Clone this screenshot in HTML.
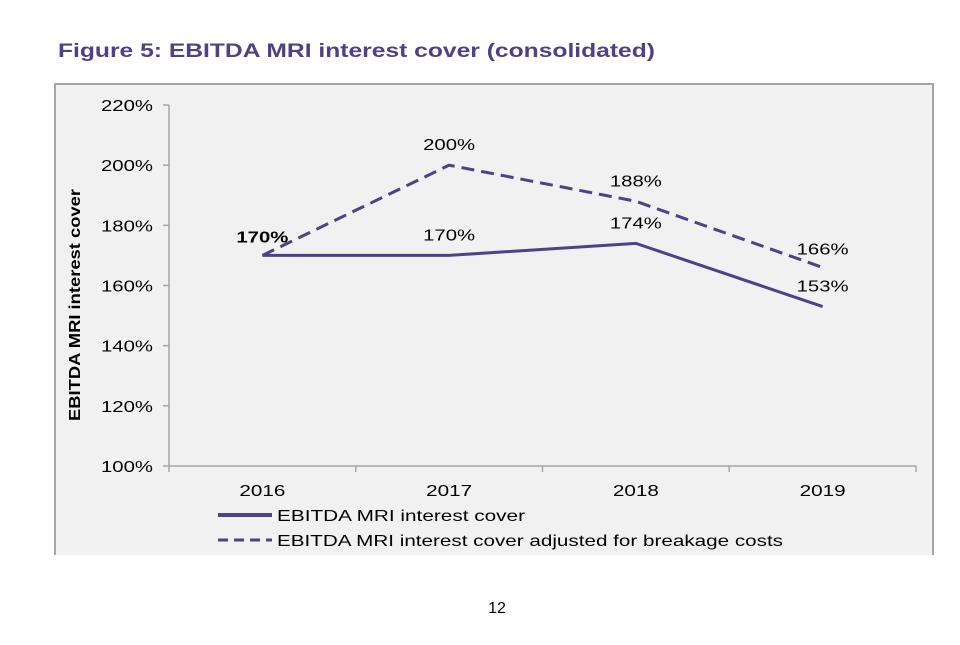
<!DOCTYPE html>
<html><head><meta charset="utf-8"><style>
body{margin:0;background:#fff;width:960px;height:640px;overflow:hidden;font-family:"Liberation Sans",sans-serif}
</style></head><body>
<svg width="960" height="640" xmlns="http://www.w3.org/2000/svg">
<text x="58" y="57" font-size="19" font-weight="bold" fill="#4e4187" textLength="597" lengthAdjust="spacingAndGlyphs">Figure 5: EBITDA MRI interest cover (consolidated)</text>
<path d="M55,555 V84 H933 V555" fill="#f1f1f1" stroke="#a6a6a6" stroke-width="2"/>
<g id="axes"></g>
<g id="series"></g>
<text x="80" y="305" font-size="16" font-weight="bold" fill="#000" transform="rotate(-90 80 305)" text-anchor="middle" textLength="232" lengthAdjust="spacingAndGlyphs">EBITDA MRI interest cover</text>
<line x1="218" y1="515" x2="272" y2="515" stroke="#4e4187" stroke-width="4"/>
<text x="277" y="521" font-size="16" textLength="248" lengthAdjust="spacingAndGlyphs">EBITDA MRI interest cover</text>
<line x1="218" y1="540" x2="272" y2="540" stroke="#4e4187" stroke-width="3" stroke-dasharray="10,6"/>
<text x="277" y="546" font-size="16" textLength="506" lengthAdjust="spacingAndGlyphs">EBITDA MRI interest cover adjusted for breakage costs</text>
<text x="497" y="613" font-size="16" text-anchor="middle">12</text>
</svg>
<script>
const categories=["2016","2017","2018","2019"];
const reported=[170,170,174,153];
const adjusted=[170,200,188,166];
const yTicks=[100,120,140,160,180,200,220];
const NS="http://www.w3.org/2000/svg";
const x0=169,x1=916,yTop=105,yBot=466,yMin=100,yMax=220;
const bw=(x1-x0)/categories.length;
function xs(i){return x0+bw*(i+0.5);}
function ys(v){return yBot-(v-yMin)/(yMax-yMin)*(yBot-yTop);}
function mk(tag,attrs,parent){const e=document.createElementNS(NS,tag);for(const k in attrs)e.setAttribute(k,attrs[k]);parent.appendChild(e);return e;}
const ax=document.getElementById('axes'),se=document.getElementById('series');
let a=mk('line',{x1:x0,y1:yTop,x2:x0,y2:yBot,stroke:'#a6a6a6','stroke-width':1.5},ax);


a=mk('line',{x1:x0,y1:yBot,x2:x1,y2:yBot,stroke:'#a6a6a6','stroke-width':1.5},ax);


yTicks.forEach(v=>{
 const y=ys(v);
 mk('line',{x1:x0-6,y1:y,x2:x0,y2:y,stroke:'#a6a6a6','stroke-width':1.5},ax);
 const t=mk('text',{x:x0-16,y:y+6,'font-size':16,'text-anchor':'end',textLength:52,lengthAdjust:'spacingAndGlyphs'},ax);
 t.textContent=v+'%';
 
 
});
for(let i=0;i<=categories.length;i++){mk('line',{x1:x0+bw*i,y1:yBot,x2:x0+bw*i,y2:yBot+6,stroke:'#a6a6a6','stroke-width':1.5},ax);}
categories.forEach((c,i)=>{
 const t=mk('text',{x:xs(i),y:yBot+30,'font-size':16,'text-anchor':'middle',textLength:46,lengthAdjust:'spacingAndGlyphs'},ax);
 t.textContent=c;
 
 
});
function draw(vals,dash,name){
 const p=mk('polyline',{points:vals.map((v,i)=>xs(i)+','+ys(v)).join(' '),fill:'none',stroke:'#4e4187','stroke-width':3,'stroke-dasharray':dash},se);
 
 
}
draw(adjusted,'13,7','adjusted-line');
draw(reported,'none','reported-line');
function lab(v,i,dy,name,bold){
 const t=mk('text',{x:xs(i),y:ys(v)+dy,'font-size':16,'text-anchor':'middle',textLength:52,lengthAdjust:'spacingAndGlyphs','font-weight':bold?'bold':'normal'},se);
 t.textContent=v+'%';
 
 
}
reported.forEach((v,i)=>{
 if(i===0)return;
 lab(v,i,i===3?-15:-15,'reported-value-label',false);
});
adjusted.forEach((v,i)=>{
 lab(v,i,i===0?-13:(i===3?-13:-15),'adjusted-value-label',i===0);
});
</script>
</body></html>
